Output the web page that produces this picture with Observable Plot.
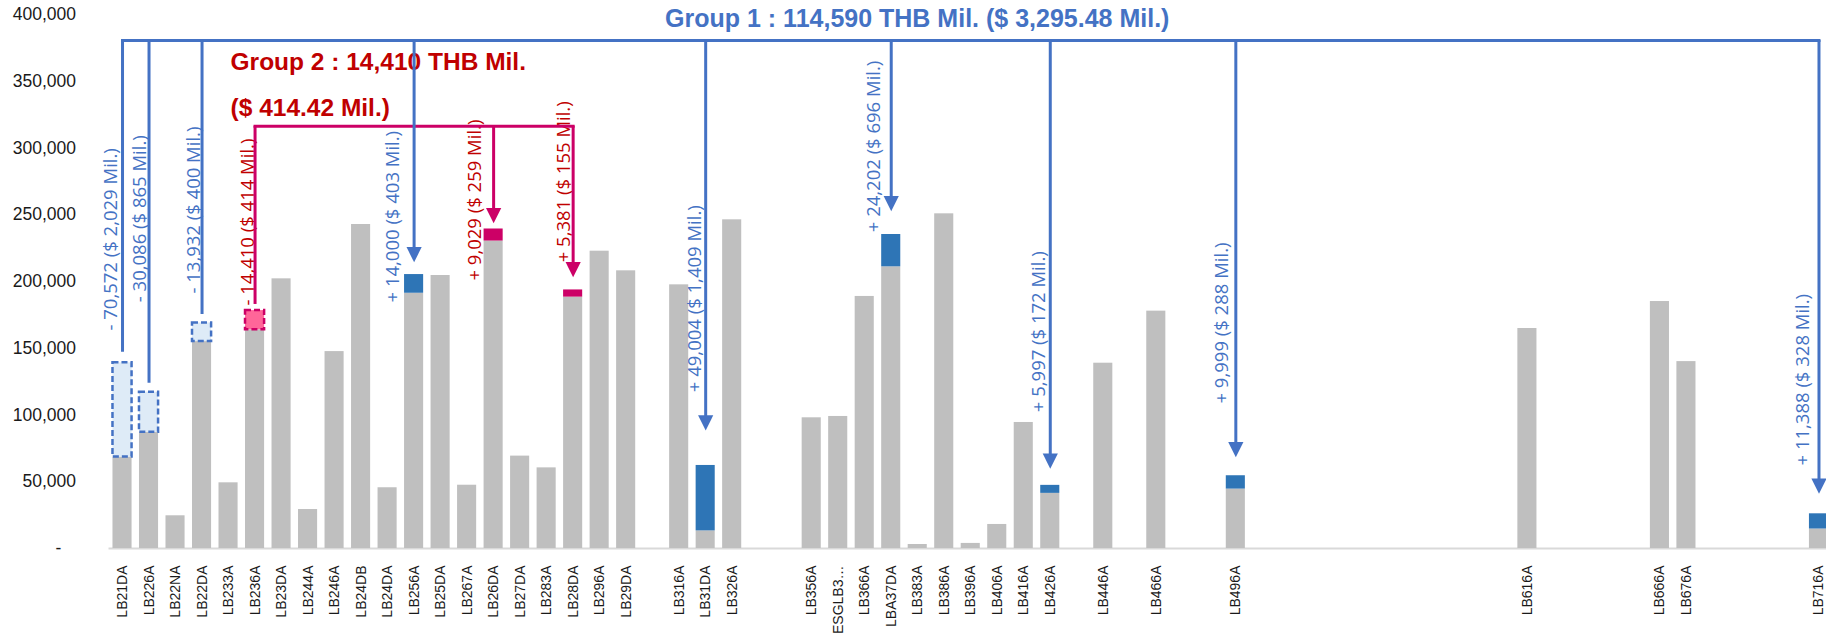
<!DOCTYPE html>
<html>
<head>
<meta charset="utf-8">
<script src="https://cdn.jsdelivr.net/npm/d3@7"></script>
<script src="https://cdn.jsdelivr.net/npm/@observablehq/plot@0.6"></script>
<style>
  html, body { margin: 0; padding: 0; background: #fff; overflow: hidden; }
  #chart svg { display: block; }
</style>
</head>
<body>
<div id="chart"></div>
<script>
// ---------- data ----------
// x slots (empty string = empty slot on the category axis)
const slots = [
  "LB21DA","LB226A","LB22NA","LB22DA","LB233A","LB236A","LB23DA","LB244A","LB246A","LB24DB",
  "LB24DA","LB256A","LB25DA","LB267A","LB26DA","LB27DA","LB283A","LB28DA","LB296A","LB29DA",
  "","LB316A","LB31DA","LB326A","","","LB356A","ESGLB3…","LB366A","LBA37DA",
  "LB383A","LB386A","LB396A","LB406A","LB416A","LB426A","","LB446A","","LB466A",
  "","","LB496A","","","","","","","",
  "","","","LB616A","","","","","LB666A","LB676A",
  "","","","","LB716A"
];
// remaining (grey) value, THB Mil.
const baseValues = [
  68500, 87000, 24500, 155000, 49200, 163800, 202000, 29200, 147500, 242700,
  45500, 191200, 204500, 47400, 230300, 69200, 60400, 188300, 222700, 208000,
  null, 197500, 13200, 246200, null, null, 97900, 98900, 188800, 211000,
  3000, 250700, 3800, 18000, 94400, 41300, null, 138800, null, 177800,
  null, null, 44500, null, null, null, null, null, null, null,
  null, null, null, 164800, null, null, null, null, 185000, 140000,
  null, null, null, null, 14600
];
const yTicks = [0, 50000, 100000, 150000, 200000, 250000, 300000, 350000, 400000];

// transfers
const changeSlots = ["LB21DA","LB226A","LB22DA","LB236A","LB256A","LB26DA","LB28DA","LB31DA","LBA37DA","LB426A","LB496A","LB716A"];
const changeTHB   = [-70572, -30086, -13932, -14410, 14000, 9029, 5381, 49004, 24202, 5997, 9999, 11388];
const changeUSD   = [2029, 865, 400, 414, 403, 259, 155, 1409, 696, 172, 288, 328];
const changeGroup = [1, 1, 1, 2, 1, 2, 2, 1, 1, 1, 1, 1];

const group1Title = "Group 1 : 114,590 THB Mil. ($ 3,295.48 Mil.)";
const group2Title = ["Group 2 : 14,410 THB Mil.", "($ 414.42 Mil.)"];

// ---------- annotation layout (value units / px offsets) ----------
const groupLevel   = {1: 380500, 2: 316300};
const connectorEnd = [147000, 123800, 175300, 182800, 214400, 243600, 203200, 88400, 252600, 59700, 68400, 41000];
const labelBase    = [163300, 184500, 191000, 182000, 184300, 200700, 214400, 117100, 236900, 102100, 108600, 62200];
const labelDx      = [-11.5, -9, -8, -7, -21, -18.5, -9.5, -11, -17.5, -11, -13.5, -15.5];

// ---------- build tables ----------
const bars = slots.map((s, i) => ({slot: i, value: baseValues[i]})).filter(d => d.value != null);
const fmt = d3.format(",");
const changes = changeSlots.map((s, k) => {
  const slot = slots.indexOf(s);
  const base = baseValues[slot];
  const amt = changeTHB[k];
  return {
    slot, base, top: base + Math.abs(amt), amt,
    group: changeGroup[k],
    level: groupLevel[changeGroup[k]],
    end: connectorEnd[k],
    labelY: labelBase[k],
    dx: labelDx[k],
    label: (amt < 0 ? "- " : "+ ") + fmt(Math.abs(amt)) + " ($ " + fmt(changeUSD[k]) + " Mil.)"
  };
});
const groups = [1, 2].map(g => {
  const s = changes.filter(d => d.group === g).map(d => d.slot);
  return {group: g, x1: d3.min(s), x2: d3.max(s), level: groupLevel[g]};
});

const C = {
  grey: "#bfbfbf",
  blueLine: "#4472c4",
  blueBar: "#2e75b6",
  blueFill: "#deebf7",
  magenta: "#cc0066",
  pinkFill: "#ff6699",
  red: "#c00000"
};
const lineColor = g => g === 1 ? C.blueLine : C.magenta;
const textColor = g => g === 1 ? C.blueLine : C.red;

const arrowHead = {
  draw(context, size) {
    const r = Math.sqrt(size / Math.PI);
    context.moveTo(0, 0);
    context.lineTo(-r, -2 * r);
    context.lineTo(r, -2 * r);
    context.closePath();
  }
};

const labelFont = "'Open Sans', 'Liberation Sans', sans-serif";
const titleFont = "'Liberation Sans', Arial, sans-serif";

const positives = changes.filter(d => d.amt > 0);
const negatives = changes.filter(d => d.amt < 0);

const chart = Plot.plot({
  width: 1826,
  height: 634,
  marginTop: 14,
  marginBottom: 86,
  marginLeft: 108.5,
  marginRight: 0,
  style: {fontFamily: titleFont, fontSize: "14px", background: "white", color: "#222"},
  x: {type: "band", domain: d3.range(slots.length), range: [108.5, 1832], paddingInner: 0.28, paddingOuter: 0.15},
  y: {domain: [0, 400000]},
  marks: [
    Plot.ruleY([0], {stroke: "#d9d9d9", strokeWidth: 2}),
    Plot.barY(bars, {x: "slot", y: "value", fill: C.grey}),
    // added volume
    Plot.barY(positives, {x: "slot", y1: "base", y2: "top", fill: d => d.group === 1 ? C.blueBar : C.magenta}),
    // removed volume (dashed boxes)
    Plot.barY(negatives, {x: "slot", y1: "base", y2: "top",
      fill: d => d.group === 1 ? C.blueFill : C.pinkFill,
      stroke: d => lineColor(d.group), strokeWidth: 2.5, strokeDasharray: "6,3"}),
    // axes
    Plot.axisY({ticks: yTicks, tickSize: 0, tickPadding: 33, fontSize: 17.5, fill: "#1a1a1a",
      tickFormat: d => d === 0 ? "-\u00a0\u00a0\u00a0" : fmt(d), label: null}),
    Plot.axisX({ticks: d3.range(slots.length).filter(i => slots[i] !== ""), tickRotate: -90,
      tickSize: 0, tickPadding: 17, fontSize: 14, fill: "#1a1a1a", tickFormat: i => slots[i], label: null}),
    // group 2 title
    Plot.text([group2Title[0]], {x: () => 4, y: () => 364000, text: d => d, textAnchor: "start", dx: 2,
      fill: C.red, fontWeight: "bold", fontSize: 24.5, fontFamily: titleFont}),
    Plot.text([group2Title[1]], {x: () => 4, y: () => 330000, text: d => d, textAnchor: "start", dx: 2,
      fill: C.red, fontWeight: "bold", fontSize: 24.5, fontFamily: titleFont}),
    // rotated labels
    ...changes.map(d => Plot.text([d], {x: "slot", y: "labelY", text: "label", rotate: -90, textAnchor: "start",
      dx: d.dx, fill: textColor(d.group), fontSize: 18.5, fontFamily: labelFont})),
    // connectors
    Plot.link(groups, {x1: "x1", x2: "x2", y1: "level", y2: "level", stroke: d => lineColor(d.group),
      strokeWidth: 3, strokeLinecap: "square"}),
    Plot.ruleX(negatives, {x: "slot", y1: "level", y2: "end", stroke: d => lineColor(d.group), strokeWidth: 3}),
    Plot.ruleX(positives, {x: "slot", y1: "level", y2: "end", stroke: d => lineColor(d.group), strokeWidth: 3, insetBottom: 8}),
    Plot.dot(positives, {x: "slot", y: "end", symbol: arrowHead, r: 7.6, fill: d => lineColor(d.group), stroke: "none"}),
    // group 1 title
    Plot.text([group1Title], {x: () => 29, y: () => 397000, text: d => d, textAnchor: "middle", dx: 26,
      fill: C.blueLine, fontWeight: "bold", fontSize: 25, fontFamily: titleFont})
  ]
});
document.getElementById("chart").append(chart);
</script>
</body>
</html>
